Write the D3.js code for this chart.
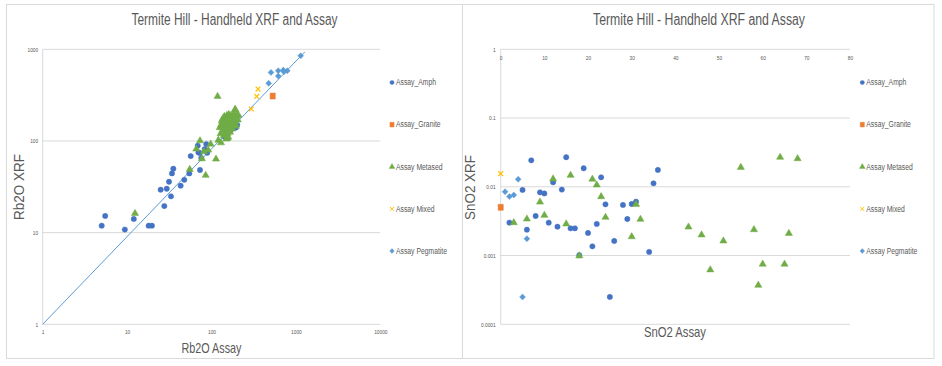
<!DOCTYPE html>
<html><head><meta charset="utf-8">
<script src="https://cdn.jsdelivr.net/npm/d3@7"></script>
<style>
html,body{margin:0;padding:0;background:#fff;}
svg{display:block;font-family:"Liberation Sans",Arial,sans-serif;}
</style></head>
<body><svg id="c" width="942" height="366"></svg>
<script>
// ---------- data ----------
const seriesNames = ["Assay_Amph","Assay_Granite","Assay Metased","Assay Mixed","Assay Pegmatite"];
const seriesColors = ["#4472C4","#ED7D31","#70AD47","#FFC000","#5B9BD5"];
const seriesShapes = ["circle","square","triangle","x","diamond"];

// Rb2O panel: [assay, xrf]
const rbAmph = [[5,11.9],[5.5,15.2],[9.4,10.8],[12,14.1],[18,11.9],[19.7,11.9],[25,29.4],[27.6,19.5],[29.5,30.1],[31.4,35.9],[33.1,24.9],[34,44.3],[35.3,49.8],[43.1,32.5],[47.6,37.7],[54.6,44.3],[56.7,68.4],[68.7,88.7],[70,75],[72.5,74],[73.1,48.2],[75.7,65.1],[83,81.6],[86.7,92.5],[89.1,74.3],[143,111],[148.6,122.8],[168.8,131.5],[195,140],[202,150]];
const rbGranite = [[531,309]];
const rbMetased = [[12.4,16.2],[55.2,49],[73.1,100.5],[66,81.6],[77.1,63.9],[85.3,42.2],[97.8,92.5],[81.2,76.3],[91.4,79.6],[113,63.5],[118,306],[120.5,102],[129.7,95.6],[154,107],[208,192],[191,221],
 [125,140],[128,120],[130,150],[132,165],[135,130],[136,175],[138,145],[140,160],[140,115],[142,185],[144,135],[145,150],[146,170],[148,125],[150,160],[150,140],[152,190],[153,145],[155,175],[155,130],[157,155],[158,110],[160,165],[160,195],[162,140],[163,150],[165,180],[166,125],[168,160],[170,190],[170,145],[172,170],[175,155],[176,135],[178,185],[180,165],[183,150],[185,200],[188,175],[190,220],[192,160],[195,145],[198,185],[203,190],[205,170],[150,105],[155,120]];
const rbMixed = [[356,368],[343,306],[296,223]];
const rbPegmatite = [[507,560],[618,583],[710,593],[722,569],[791,583],[618,510],[476,425],[1140,849]];
const rbTrend = [[1,1],[1280,940]];
const rbXTicks = [1,10,100,1000,10000];
const rbYTicks = [1,10,100,1000];

// SnO2 panel: [assay, xrf]
const snAmph = [[7,0.0243],[15,0.0269],[19,0.0186],[36,0.0176],[35,0.01125],[12,0.0116],[23,0.01375],[5,0.0090],[9,0.0083],[10,0.0080],[14,0.0091],[24,0.00556],[28,0.00544],[30,0.00562],[31,0.00608],[29,0.0034],[8,0.00376],[2,0.00301],[11,0.00301],[13,0.00263],[16,0.00249],[17,0.00249],[6,0.00238],[22,0.00288],[20,0.00213],[26,0.00163],[21,0.00136],[34,0.00113],[25,0.00025],[18,0.00101]];
const snGranite = [[0,0.00503]];
const snMetased = [[3,0.00301],[6,0.0034],[9,0.006],[10,0.00385],[12,0.013],[15,0.00288],[16,0.0147],[18,0.00099],[21,0.0129],[22,0.01063],[23,0.0072],[24,0.0036],[30,0.00188],[31,0.00556],[32,0.00337],[43,0.0026],[46,0.002],[48,0.00062],[51,0.00163],[55,0.0192],[58,0.00238],[59,0.00037],[60,0.00075],[64,0.0269],[65,0.00075],[66,0.0021],[68,0.0257]];
const snMixed = [[0,0.01555]];
const snPegmatite = [[1,0.0085],[2,0.0072],[3,0.0076],[4,0.01285],[6,0.00176],[5,0.00025]];
const snXTicks = [0,10,20,30,40,50,60,70,80];
const snYTicks = [0.0001,0.001,0.01,0.1,1];

const titleText = "Termite Hill - Handheld XRF and Assay";

// ---------- drawing ----------
const svg = d3.select("#c");
const GRID = "#d9d9d9", TXT = "#595959";
const NARROW = 0.8;   // horizontal condensing to mimic the narrow chart font

function condense(sel, width){
  sel.each(function(){
    const w = width != null ? width : this.getComputedTextLength() * NARROW;
    d3.select(this).attr("textLength", w).attr("lengthAdjust","spacingAndGlyphs");
  });
}
function symbolPath(shape, k){
  k = k || 1;
  if(shape==="circle") return d3.symbol(d3.symbolCircle, 22*k*k)();
  if(shape==="square") return `M${-2.6*k},${-3*k}L${2.6*k},${-3*k}L${2.6*k},${3*k}L${-2.6*k},${3*k}Z`;
  if(shape==="triangle") return d3.symbol(d3.symbolTriangle, 22*k*k)();
  if(shape==="diamond") return `M0,${-3*k}L${2.9*k},0L0,${3*k}L${-2.9*k},0Z`;
  return `M${-2.4*k},${-2.4*k}L${2.4*k},${2.4*k}M${-2.4*k},${2.4*k}L${2.4*k},${-2.4*k}`;
}
function drawMarks(g, data, i, x, y){
  const shape = seriesShapes[i], col = seriesColors[i];
  g.append("g").selectAll("path").data(data).join("path")
    .attr("transform", d => `translate(${x(d[0])},${y(d[1])})`)
    .attr("d", symbolPath(shape))
    .attr("fill", shape==="x" ? "none" : col)
    .attr("stroke", col)
    .attr("stroke-width", shape==="x" ? 1.2 : 0.5);
}
function drawLegend(g, lx){
  const ly = d3.scalePoint().domain(seriesNames).range([82.5,251]);
  const items = g.append("g").selectAll("g").data(seriesNames).join("g")
    .attr("transform", d => `translate(${lx},${ly(d)})`);
  items.append("path")
    .attr("d", (d,i)=> symbolPath(seriesShapes[i], 0.8))
    .attr("fill", (d,i)=> seriesShapes[i]==="x" ? "none" : seriesColors[i])
    .attr("stroke", (d,i)=> seriesColors[i]).attr("stroke-width",(d,i)=> seriesShapes[i]==="x"?1:0.4);
  items.append("text").attr("x",4).attr("y",2.8)
    .attr("font-size",8.5).attr("fill",TXT).text(d=>d).call(condense);
}
function styleAxis(ax){
  ax.select(".domain").remove();
  ax.selectAll("text").attr("fill", TXT).attr("font-size", 6).call(condense);
}

// panel borders
svg.append("rect").attr("x",6.5).attr("y",4.5).attr("width",456).attr("height",354).attr("fill","none").attr("stroke",GRID);
svg.append("rect").attr("x",462.5).attr("y",4.5).attr("width",471.5).attr("height",354).attr("fill","none").attr("stroke",GRID);

// ---- left panel (Rb2O) ----
{
  const g = svg.append("g");
  const x = d3.scaleLog().domain([1,10000]).range([42.7,380.3]);
  const y = d3.scaleLog().domain([1,1000]).range([324.3,49.3]);
  g.append("g").selectAll("line").data(rbYTicks).join("line")
    .attr("x1",x.range()[0]).attr("x2",x.range()[1]).attr("y1",d=>y(d)).attr("y2",d=>y(d))
    .attr("stroke",GRID).attr("stroke-width",1);
  g.append("line").attr("x1",x.range()[0]).attr("x2",x.range()[0]).attr("y1",y.range()[0]).attr("y2",y.range()[1]).attr("stroke",GRID);
  const ya = g.append("g").attr("transform",`translate(${x.range()[0]},0)`)
    .call(d3.axisLeft(y).tickValues(rbYTicks).tickSize(0).tickPadding(4.5).tickFormat(d3.format("d")));
  styleAxis(ya);
  const xa = g.append("g").attr("transform",`translate(0,${y.range()[0]})`)
    .call(d3.axisBottom(x).tickValues(rbXTicks).tickSize(0).tickPadding(5.5).tickFormat(d3.format("d")));
  styleAxis(xa);
  g.append("path").datum(rbTrend).attr("d", d3.line().x(d=>x(d[0])).y(d=>y(d[1])))
    .attr("stroke","#5B9BD5").attr("stroke-width",1).attr("fill","none");
  [rbAmph,rbGranite,rbMetased,rbMixed,rbPegmatite].forEach((d,i)=>drawMarks(g,d,i,x,y));
  g.append("text").attr("x",234.5).attr("y",25).attr("text-anchor","middle").attr("font-size",16).attr("fill",TXT).text(titleText).call(condense,206);
  g.append("text").attr("x",211.5).attr("y",352.5).attr("text-anchor","middle").attr("font-size",14.5).attr("fill",TXT).text("Rb2O Assay").call(condense,60);
  g.append("text").attr("transform","translate(23.5,187) rotate(-90)").attr("text-anchor","middle").attr("font-size",14.5).attr("fill",TXT).text("Rb2O XRF").call(condense,66);
  drawLegend(g, 392);
}

// ---- right panel (SnO2) ----
{
  const g = svg.append("g");
  const x = d3.scaleLinear().domain([0,80]).range([500.7,850]);
  const y = d3.scaleLog().domain([0.0001,1]).range([324.3,49.3]);
  g.append("g").selectAll("line").data(snYTicks).join("line")
    .attr("x1",x.range()[0]).attr("x2",x.range()[1]).attr("y1",d=>y(d)).attr("y2",d=>y(d))
    .attr("stroke",GRID).attr("stroke-width",1);
  g.append("line").attr("x1",x.range()[0]).attr("x2",x.range()[0]).attr("y1",y.range()[0]).attr("y2",y.range()[1]).attr("stroke",GRID);
  const ya = g.append("g").attr("transform",`translate(${x.range()[0]},0)`)
    .call(d3.axisLeft(y).tickValues(snYTicks).tickSize(0).tickPadding(5).tickFormat(d=>String(+d.toPrecision(1))));
  styleAxis(ya);
  const xa = g.append("g").attr("transform",`translate(0,${y(1)})`)
    .call(d3.axisBottom(x).tickValues(snXTicks).tickSize(0).tickPadding(6).tickFormat(d3.format("d")));
  styleAxis(xa);
  [snAmph,snGranite,snMetased,snMixed,snPegmatite].forEach((d,i)=>drawMarks(g,d,i,x,y));
  g.append("text").attr("x",699).attr("y",25).attr("text-anchor","middle").attr("font-size",16).attr("fill",TXT).text(titleText).call(condense,212);
  g.append("text").attr("x",675).attr("y",337).attr("text-anchor","middle").attr("font-size",14.5).attr("fill",TXT).text("SnO2 Assay").call(condense,62);
  g.append("text").attr("transform","translate(474.5,187.5) rotate(-90)").attr("text-anchor","middle").attr("font-size",14.5).attr("fill",TXT).text("SnO2 XRF").call(condense,65);
  drawLegend(g, 862.3);
}
</script></body></html>
